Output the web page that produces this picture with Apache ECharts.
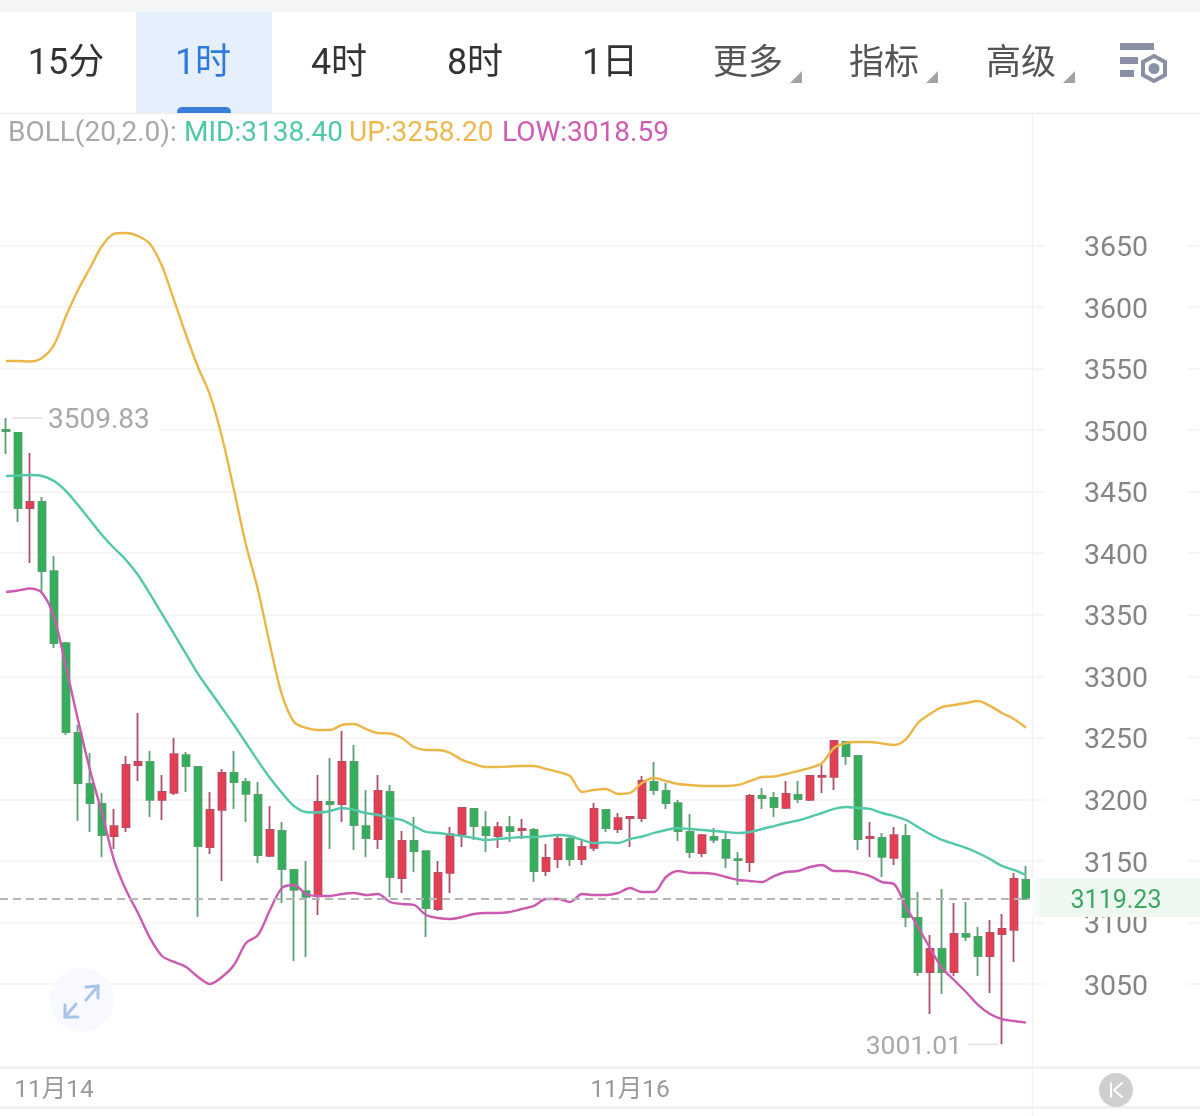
<!DOCTYPE html>
<html><head><meta charset="utf-8">
<style>html,body{margin:0;padding:0;background:#fff}#c{width:1200px;height:1116px}</style>
<script src="https://cdn.jsdelivr.net/npm/echarts@6/dist/echarts.min.js"></script>
</head><body><div id="c"></div>
<script>
const opens=[3500.1,3499.3,3436.7,3441.6,3385.5,3327.0,3253.9,3212.5,3196.2,3170.2,3177.5,3227.9,3230.4,3199.5,3205.2,3236.0,3226.3,3161.3,3191.4,3221.4,3214.1,3203.6,3154.0,3174.3,3142.6,3125.5,3121.5,3197.9,3196.2,3230.4,3178.3,3167.8,3206.0,3136.1,3166.2,3158.0,3110.9,3140.2,3171.8,3192.2,3177.5,3170.2,3177.5,3175.1,3175.1,3141.8,3151.5,3167.8,3151.5,3160.5,3191.4,3175.9,3184.8,3184.8,3214.1,3206.8,3197.0,3173.5,3156.4,3169.4,3167.0,3151.5,3149.1,3202.8,3201.1,3193.0,3203.6,3199.5,3218.2,3218.2,3246.6,3235.2,3168.6,3168.6,3152.4,3170.2,3103.6,3059.7,3078.4,3059.7,3090.6,3088.2,3072.7,3090.6,3093.9,3134.5];
const closes=[3499.3,3436.7,3441.6,3385.5,3327.0,3254.7,3213.3,3197.0,3171.0,3178.3,3227.9,3230.4,3199.5,3206.0,3236.8,3227.1,3162.1,3191.4,3221.4,3214.1,3204.4,3154.8,3175.1,3143.4,3126.4,3120.7,3197.9,3196.2,3230.4,3179.1,3168.6,3206.8,3136.9,3166.2,3158.0,3111.7,3140.2,3171.8,3193.0,3178.3,3171.0,3177.5,3174.3,3175.9,3141.8,3152.4,3167.8,3151.5,3161.3,3192.2,3176.7,3184.8,3185.7,3214.9,3207.6,3197.0,3174.3,3157.2,3171.0,3167.0,3152.4,3150.7,3202.8,3201.1,3193.8,3204.4,3200.3,3219.0,3219.0,3247.4,3235.2,3167.8,3169.4,3153.2,3171.0,3104.4,3059.7,3078.4,3059.7,3090.6,3088.2,3072.7,3091.4,3094.7,3135.3,3119.23];
const lows=[3480.6,3425.3,3392.0,3367.7,3323.0,3252.3,3182.4,3173.5,3153.2,3159.7,3173.5,3214.9,3185.7,3183.2,3203.6,3206.0,3104.4,3155.6,3133.7,3192.2,3181.6,3148.3,3153.2,3115.8,3068.7,3071.9,3106.0,3159.7,3181.6,3158.9,3153.2,3159.7,3120.7,3123.9,3141.0,3088.2,3109.3,3123.9,3161.3,3167.0,3157.2,3160.5,3165.4,3167.8,3132.8,3137.7,3144.2,3145.9,3146.7,3158.0,3173.5,3172.7,3161.3,3181.6,3203.6,3192.2,3166.2,3152.4,3153.2,3164.6,3144.2,3130.4,3141.0,3192.2,3185.7,3192.2,3197.0,3198.7,3205.2,3207.6,3227.9,3158.9,3153.2,3136.9,3146.7,3096.3,3056.5,3025.6,3041.9,3056.5,3084.9,3056.5,3042.7,3001.01,3067.9,3118.9];
const highs=[3509.83,3500.1,3481.4,3445.7,3397.7,3327.8,3260.4,3237.7,3205.2,3192.2,3235.2,3270.2,3239.3,3219.8,3249.8,3238.5,3227.0,3206.0,3224.7,3239.3,3217.3,3214.1,3194.6,3181.6,3143.0,3149.9,3219.8,3233.6,3255.5,3244.2,3207.6,3219.8,3211.7,3174.3,3185.7,3158.5,3149.9,3177.5,3193.4,3192.6,3190.5,3181.6,3186.5,3184.0,3176.7,3163.8,3171.0,3171.0,3166.2,3197.0,3192.2,3188.9,3186.0,3219.0,3230.4,3213.3,3199.5,3188.1,3171.8,3176.7,3173.5,3157.2,3204.4,3209.2,3206.0,3214.9,3214.9,3219.8,3227.9,3248.2,3247.4,3236.0,3181.6,3172.7,3177.5,3180.0,3124.7,3089.8,3127.2,3115.8,3116.6,3096.3,3102.0,3106.8,3140.2,3145.9];
const bollUp=[3556.2,3556.2,3555.8,3558.6,3569.2,3592.7,3613.9,3631.7,3649.6,3659.4,3660.2,3657.7,3651.2,3633.3,3605.7,3577.3,3551.3,3528.5,3494.4,3451.3,3406.7,3370.1,3325.4,3284.8,3262.8,3258.0,3256.3,3256.3,3260.4,3261.2,3257.2,3253.9,3253.5,3249.8,3242.5,3240.1,3240.1,3237.7,3232.0,3228.7,3226.3,3226.3,3226.7,3227.1,3227.1,3224.7,3222.2,3219.0,3206.0,3207.6,3208.4,3204.4,3205.2,3213.3,3217.3,3214.9,3212.5,3211.7,3210.9,3210.9,3210.9,3211.7,3214.9,3218.2,3218.6,3220.6,3223.0,3225.5,3229.5,3241.7,3245.8,3246.6,3246.6,3245.4,3244.2,3249.0,3262.0,3269.4,3275.0,3276.7,3278.3,3279.9,3275.9,3270.2,3265.3,3258.20];
const bollMid=[3462.7,3463.1,3463.5,3462.7,3458.7,3450.5,3439.2,3427.0,3414.8,3404.2,3394.5,3382.3,3366.9,3350.6,3334.4,3318.1,3301.9,3288.0,3274.2,3260.4,3245.8,3231.2,3217.3,3205.2,3194.6,3189.7,3189.3,3190.5,3193.0,3191.4,3188.9,3187.3,3184.8,3183.2,3178.3,3173.5,3172.7,3171.4,3170.2,3168.6,3167.0,3167.8,3168.6,3169.4,3169.4,3170.2,3171.0,3170.2,3167.0,3164.5,3165.0,3164.5,3167.8,3169.8,3172.7,3175.1,3176.7,3175.9,3175.1,3174.3,3173.5,3172.7,3173.5,3175.9,3178.3,3180.8,3182.8,3185.7,3188.9,3192.2,3193.8,3193.0,3192.2,3188.9,3186.5,3183.2,3177.5,3171.8,3167.0,3163.8,3160.5,3156.4,3151.5,3145.9,3142.6,3138.40];
const bollLow=[3368.5,3369.7,3371.3,3367.7,3348.2,3307.5,3264.5,3223.8,3188.9,3150.7,3126.4,3107.6,3087.3,3072.7,3067.9,3063.8,3055.7,3050.0,3055.7,3065.4,3083.3,3089.8,3110.1,3128.0,3130.4,3123.1,3121.5,3121.5,3123.1,3123.9,3122.3,3123.1,3116.6,3115.0,3114.2,3106.0,3103.6,3102.8,3104.4,3106.8,3107.6,3107.6,3108.5,3110.9,3113.4,3119.0,3119.0,3116.6,3123.1,3122.3,3122.3,3123.9,3128.0,3124.7,3124.7,3136.9,3141.8,3140.2,3140.2,3139.4,3136.9,3134.5,3133.7,3132.8,3137.7,3141.0,3141.8,3145.0,3146.7,3141.8,3141.8,3140.2,3137.7,3132.8,3131.2,3112.5,3096.3,3079.2,3062.9,3053.2,3043.5,3033.0,3025.6,3021.5,3019.9,3018.59];
const lastPrice=3119.23, highLabel=3509.83, lowLabel=3001.01;
const tabs=['15分','1时','4时','8时','1日'];
const menus=['更多','指标','高级'];
const dateTicks={4:'11月14',52:'11月16'};
const categories=Array.from({length:100},(_,i)=>dateTicks[i]||String(i));
const candles=opens.map((o,i)=>[o,closes[i],lows[i],highs[i]]);

const FONT='Roboto,"Noto Sans CJK SC",sans-serif';
const RED='#e23f52',GREEN='#35ae5c',RW='#b04f68',GW='#5a9e72';
const chart=echarts.init(document.getElementById('c'),null,{width:1200,height:1116});

function txt(text,x,y,size,fill,align,extra){
  return Object.assign({type:'text',z:120,silent:true,style:{text,x,y,fill,font:size+'px '+FONT,
    align:align||'center',verticalAlign:'middle',textAlign:align||'center',textVerticalAlign:'middle'}},extra||{});
}
function rect(x,y,w,h,fill,z,r){return {type:'rect',z:z||110,silent:true,shape:{x,y,width:w,height:h,r:r||0},style:{fill}};}
function line(x1,y1,x2,y2,stroke,w,z){return {type:'line',z:z||110,silent:true,shape:{x1,y1,x2,y2},style:{stroke,lineWidth:w||1,lineCap:'round'}};}
function tri(x,y){return {type:'polygon',z:120,silent:true,shape:{points:[[x+12,y],[x+12,y+12],[x,y+12]]},style:{fill:'#a3a3a3'}};}

const tabX=[66,203,339,475,610], menuX=[748,884,1021], triX=[790,926,1063];
const g=[
  rect(0,0,1200,12,'#f5f6f8'),
  rect(0,12,1200,101,'#ffffff'),
  rect(136,12,136,101,'#e6f0fc'),
  rect(177,107,54,6,'#3a7fd8',115,[5,5,0,0]),
  line(0,113.5,1200,113.5,'#eeeeee',1.5),
  line(1032.5,114,1032.5,1116,'#f2f2f2',1.5,1),
  line(0,1067.5,1200,1067.5,'#eeeeee',2),
  line(0,1107.5,1200,1107.5,'#eeeeee',2),
];
tabs.forEach((t,i)=>g.push(txt(t,tabX[i],65,36,i===1?'#2f7bd9':'#333333')));
menus.forEach((t,i)=>{g.push(txt(t,menuX[i],65,35,'#555555'));g.push(tri(triX[i],71));});
// settings icon
g.push(rect(1120,43,34,7,'#8a90a3',120),rect(1120,57,18,7,'#8a90a3',120),rect(1120,70,14,7,'#8a90a3',120));
g.push({type:'polygon',z:120,silent:true,shape:{points:[[1154,56],[1165,62],[1165,75],[1154,81],[1143,75],[1143,62]]},style:{fill:'#fff',stroke:'#8a90a3',lineWidth:4}});
g.push({type:'circle',z:121,silent:true,shape:{cx:1154,cy:68.5,r:5.5},style:{fill:'#8a90a3'}});
// indicator legend
[['BOLL(20,2.0):',8,'#a8a8a8'],['MID:3138.40',184,'#4fc8a6'],['UP:3258.20',349,'#ecb84c'],['LOW:3018.59',502,'#d05cb2']]
  .forEach(a=>g.push(txt(a[0],a[1],134,28,a[2],'left')));
// last price tag
g.push({type:'rect',z:110,silent:true,shape:{x:1030,y:878,width:170,height:39},style:{fill:new echarts.graphic.LinearGradient(0,0,1,0,[{offset:0,color:'#ffffff'},{offset:0.07,color:'#eef8f1'},{offset:1,color:'#eef8f1'}])}});
g.push(txt(String(lastPrice),1116,902,25,'#3aa862'));
// expand button
g.push({type:'circle',z:105,silent:true,shape:{cx:82,cy:1000,r:32},style:{fill:'#f7f9fe'}});
[[86,1000,98,986],[86,987,98,986],[98,986,98,998],[76,1004,65,1017],[65,1005,65,1017],[65,1017,78,1017]]
  .forEach(a=>g.push(line(a[0],a[1],a[2],a[3],'#a9c4e8',3,120)));
// go-to-latest button
g.push({type:'circle',z:110,silent:true,shape:{cx:1116,cy:1090,r:17},style:{fill:'#cfcfcf'}});
g.push(line(1111,1083,1111,1097,'#ffffff',2,120),line(1122,1083,1114,1090,'#ffffff',2,120),line(1114,1090,1122,1097,'#ffffff',2,120));

const rich={l:{width:30,height:1,backgroundColor:'#d0d0d0'},
  t:{fontSize:28,fontFamily:FONT,color:'#a8a8a8',lineHeight:28,padding:[6,0,0,6]},
  u:{fontSize:26.5,fontFamily:FONT,color:'#a8a8a8',lineHeight:28,padding:[6,6,0,0]}};

chart.setOption({
  animation:false,
  backgroundColor:'#ffffff',
  textStyle:{fontFamily:FONT},
  grid:{left:0,right:0,top:183.96,bottom:70.5,containLabel:false},
  tooltip:{show:false},
  xAxis:{type:'category',data:categories,boundaryGap:true,
    axisLine:{show:false},axisTick:{show:false},splitLine:{show:false},
    axisLabel:{interval:(i)=>dateTicks[i]!==undefined,formatter:(v)=>v,margin:33,fontSize:24.5,color:'#999999',fontFamily:FONT,hideOverlap:false}},
  yAxis:{type:'value',position:'right',min:3000,max:3700,interval:50,scale:true,
    axisLine:{show:false},axisTick:{show:false},
    splitLine:{show:true,showMinLine:false,showMaxLine:false,lineStyle:{color:'#f3f3f3',width:1.5}},
    axisLabel:{inside:true,margin:12,showMinLabel:false,showMaxLabel:false,
      formatter:(v)=>'{a|'+v+'}',backgroundColor:'#ffffff',padding:[0,40,0,40],
      rich:{a:{fontSize:28.5,fontFamily:FONT,color:'#858585',lineHeight:28,padding:[7,0,0,0]}}}},
  series:[
    {name:'K线',type:'candlestick',data:candles,barWidth:8,
      itemStyle:{color:RED,color0:GREEN,borderColor:RW,borderColor0:GW,borderWidth:1.8},
      markPoint:{silent:true,symbol:'circle',symbolSize:0,animation:false,itemStyle:{color:'transparent'},data:[
        {coord:[0,highLabel],value:highLabel,label:{show:true,position:'right',offset:[1,0],formatter:'{l|}{t|'+highLabel+'}',rich,backgroundColor:'#ffffff',padding:[0,10,0,0]}},
        {coord:[83,lowLabel],value:lowLabel,label:{show:true,position:'left',offset:[1,0],formatter:'{u|'+lowLabel+'}{l|}',rich}}
      ]}},
    {name:'K线实体',type:'candlestick',data:candles,barWidth:8,
      itemStyle:{color:RED,color0:GREEN,borderColor:RED,borderColor0:GREEN,borderWidth:0}},
    {name:'UP',type:'line',data:bollUp,smooth:0.3,showSymbol:false,symbol:'none',lineStyle:{color:'#ebb648',width:2.4},z:3},
    {name:'MID',type:'line',data:bollMid,smooth:0.3,showSymbol:false,symbol:'none',lineStyle:{color:'#52c8a8',width:2.4},z:3},
    {name:'LOW',type:'line',data:bollLow,smooth:0.3,showSymbol:false,symbol:'none',lineStyle:{color:'#cb5bb0',width:2.4},z:3,
      markLine:{silent:true,symbol:'none',animation:false,label:{show:false},
        lineStyle:{color:'#b5b5b5',type:[8,5],width:2},data:[{yAxis:lastPrice}]}}
  ],
  graphic:{elements:g}
});
</script></body></html>
